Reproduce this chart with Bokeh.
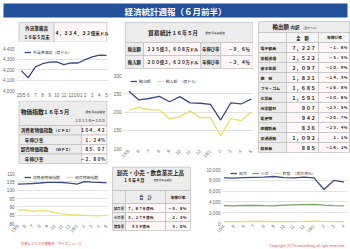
from math import pi
from bokeh.plotting import figure
from bokeh.layouts import row, column
from bokeh.models import Range1d, FixedTicker, NumeralTickFormatter, Legend, LegendItem
from bokeh.embed import file_html
from bokeh.resources import INLINE
from bokeh.core.properties import value

FONT = "Noto Sans CJK JP"
NUMF = "Liberation Sans"

# ---------------- data ----------------
title_text = "経済統計週報（６月前半）"
months_a = ["15/5", "6", "7", "8", "9", "10", "11", "12", "16/1", "2", "3", "4", "5"]
months_b = ["15/4", "5", "6", "7", "8", "9", "10", "11", "12", "16/1", "2", "3", "4"]
reserves = [4189, 4122, 4225, 4255, 4270, 4272, 4246, 4264, 4262, 4294, 4321, 4336, 4334.32]
cpi = [103.6, 103.8, 104.0, 104.3, 104.7, 104.7, 104.6, 104.2, 103.6, 105.1, 104.8, 104.7, 104.42]
wpi = [88.2, 88.1, 87.3, 87.7, 87.6, 86.5, 85.8, 85.3, 85.1, 84.9, 84.7, 84.6, 85.07]
exports = [257, 233, 237, 243, 228, 242, 225, 224, 221, 178, 225, 222, 235.36]
imports = [205, 213, 206, 206, 181, 187, 203, 184, 185, 135, 182, 176, 200.36]
wholesale = [8450, 8400, 8500, 8550, 8600, 8700, 8500, 8450, 8600, 8450, 6300, 8000, 7676]
retail = [3300, 3280, 3350, 3330, 3300, 3280, 3400, 3450, 3500, 3550, 3400, 3300, 3279]
food = [360, 350, 370, 380, 370, 350, 360, 350, 380, 420, 400, 350, 339]

reserve_label = "外貨準備高"
reserve_period = "１６年５月末"
reserve_value = "4,334.32億米ドル"
price_rows = ["消費者物価指数", "年伸び率", "卸売物価指数", "年伸び率"]
price_tags = ["（ＣＰＩ）", "", "（ＷＰＩ）", ""]
price_values = ["104.42", "1.24%", "85.07", "-2.80%"]
trade_rows = ["輸出額", "輸入額"]
trade_amounts = ["235億3,608万ドル", "200億3,620万ドル"]
trade_growth = ["-9.6%", "-3.4%"]
export_items = ["電子部品", "情報通信", "基本金属", "機　械", "プラ・ゴム", "化学品",
                "光学器材", "鉱産物", "繊維製品", "交通運輸", "精密品"]
export_amounts = [7227, 2522, 2097, 1831, 1685, 1591, 907, 942, 836, 1092, 885]
export_growth = [-1.6, -5.5, -10.9, -14.3, -16.8, -10.6, -23.5, -20.7, -23.4, 1.1, -16.2]
sales_rows = ["卸売業", "小売業", "飲食業"]
sales_amounts = ["7,676億元", "3,279億元", "339億元"]
sales_growth = ["-5.8%", "2.3%", "3.0%"]

# ---------------- styles ----------------
BLUE_BAR = "#23509b"
GRAY = "#ececec"
PINK = "#fff7f7"
BORDER = "#bcbcbc"
TEXT = "#222222"
BLUE = "#3b4b8a"
YELLOW = "#ebdf63"
GREEN = "#76a35c"
RED = "#e04545"
FW = str.maketrans("0123456789,.-%=", "０１２３４５６７８９，．－％＝")


def fw(s):
    return s.translate(FW)


def canvas(w, h):
    p = figure(width=w, height=h, x_range=Range1d(0, w), y_range=Range1d(h, 0),
               output_backend="svg", toolbar_location=None, min_border=0,
               x_axis_location=None, y_axis_location=None, outline_line_color=None,
               background_fill_color="white", border_fill_color="white")
    p.grid.visible = False
    return p


def cell(p, l, r, t, b, fill):
    p.quad(left=[l], right=[r], top=[t], bottom=[b], fill_color=fill,
           line_color=BORDER, line_width=0.7)


def txt(p, x, y, s, size="4.4px", align="left", bold=False, color=TEXT):
    p.text(x=[x], y=[y], text=[s], text_font=value(FONT), text_font_size=size,
           text_align=align, text_baseline="middle", text_color=color,
           text_font_style="bold" if bold else "normal")


def chart(w, h, xr, yr, yticks, labels, bl, br, bt, bb, rotate):
    p = figure(width=w, height=h, x_range=Range1d(*xr), y_range=Range1d(*yr),
               output_backend="svg", toolbar_location=None,
               min_border_left=bl, min_border_right=br, min_border_top=bt,
               min_border_bottom=bb, outline_line_color=None,
               background_fill_color="white", border_fill_color="white")
    p.xgrid.grid_line_color = None
    p.ygrid.grid_line_color = "#dcdcdc"
    p.ygrid.grid_line_width = 0.8
    p.xaxis.ticker = FixedTicker(ticks=list(range(len(labels))))
    p.xaxis.major_label_overrides = {i: s for i, s in enumerate(labels)}
    p.yaxis.ticker = FixedTicker(ticks=yticks)
    p.yaxis.formatter = NumeralTickFormatter(format="0,0")
    for ax in p.axis:
        ax.axis_line_color = None
        ax.major_tick_line_color = None
        ax.minor_tick_line_color = None
        ax.major_tick_out = 0
        ax.major_tick_in = 0
        ax.minor_tick_out = 0
        ax.minor_tick_in = 0
        ax.major_label_text_font_size = "4.6px"
        ax.major_label_text_color = "#666666"
        ax.major_label_text_font = NUMF
        ax.major_label_standoff = 2
    if rotate:
        p.xaxis.major_label_orientation = pi / 4
    return p


def legend(p, items, loc, spacing=4):
    lg = Legend(items=items, location=loc, orientation="horizontal",
                label_text_font=FONT, label_text_font_size="3.9px",
                label_text_color="#444444", glyph_width=7, glyph_height=6,
                label_height=6, label_width=5, label_standoff=2, spacing=spacing,
                padding=0, margin=0, border_line_color=None, background_fill_alpha=0)
    p.add_layout(lg)


# ---------------- title ----------------
title = canvas(350, 20)
title.quad(left=[3], right=[347], top=[3], bottom=[17], fill_color=BLUE_BAR, line_color=None)
txt(title, 175, 10.3, title_text, size="8.5px", align="center", bold=True, color="white")

# ---------------- left column ----------------
box = canvas(110, 22)
cell(box, 3, 45, 2, 21.7, GRAY)
cell(box, 45, 108, 2, 21.7, PINK)
txt(box, 24, 7, reserve_label, size="4.6px", align="center", bold=True)
txt(box, 24, 16, reserve_period, size="4.3px", align="center", bold=True)
txt(box, 78, 12, fw(reserve_value), size="4.5px", align="center", bold=True)

x13 = list(range(13))
ch1 = chart(110, 58, (-0.66, 12.28), (4000, 4400), [4000, 4100, 4200, 4300, 4400],
            months_a, 16, 2, 6, 7, False)
r = ch1.line(x13, reserves, line_color=BLUE, line_width=1.3)
legend(ch1, [LegendItem(label="外貨準備高（億ドル）", renderers=[r])], (8, 35.5))

ptab = canvas(110, 64)
cell(ptab, 3, 108, 0.5, 25, GRAY)
txt(ptab, 5, 11, "物価指数", size="5.8px", bold=True)
txt(ptab, 32, 11, "１６年５月", size="5.2px", bold=True)
txt(ptab, 106, 11.5, "最新月は速報値", size="2.8px", align="right")
txt(ptab, 106, 20, "２０１１年＝１００", size="3.4px", align="right")
for i in range(4):
    t = 25 + i * 9.5
    cell(ptab, 3, 78, t, t + 9.5, GRAY)
    cell(ptab, 78, 108, t, t + 9.5, PINK)
    indent = 5 if price_tags[i] else 10
    txt(ptab, indent, t + 4.8, price_rows[i], size="4.6px", bold=True)
    if price_tags[i]:
        txt(ptab, 67, t + 4.8, price_tags[i], size="3.8px", align="right", bold=True)
    txt(ptab, 106, t + 4.8, fw(price_values[i]), size="4.1px", align="right", bold=True)

ch2 = chart(110, 74, (-0.2, 12.27), (80, 110), [80, 85, 90, 95, 100, 105, 110],
            months_a, 14, 2, 9, 11, True)
ra = ch2.line(x13, cpi, line_color=BLUE, line_width=1.3)
rb = ch2.line(x13, wpi, line_color=YELLOW, line_width=1.3)
legend(ch2, [LegendItem(label="消費者物価指数", renderers=[ra]),
             LegendItem(label="卸売物価指数", renderers=[rb])], (7.7, 43.5), spacing=6)

foot = canvas(110, 11)
txt(foot, 5, 4, "台湾ビジネスの情報源　ワイズニュース", size="3.4px", color=RED)

# ---------------- middle top ----------------
ttab = canvas(143, 52)
cell(ttab, 2, 142.5, 2, 22, GRAY)
txt(ttab, 27, 12, "貿易統計", size="5.8px", bold=True)
txt(ttab, 53, 12, "１６年５月", size="5.2px", bold=True)
txt(ttab, 90, 12.5, "最新月は速報値", size="2.8px")
for i in range(2):
    t = 22 + i * 13
    cell(ttab, 2, 22, t, t + 13, GRAY)
    cell(ttab, 22, 85, t, t + 13, PINK)
    cell(ttab, 85, 107, t, t + 13, GRAY)
    cell(ttab, 107, 142.5, t, t + 13, PINK)
    txt(ttab, 12, t + 6.5, trade_rows[i], size="4.4px", align="center", bold=True)
    txt(ttab, 54, t + 6.5, fw(trade_amounts[i]), size="4.3px", align="center", bold=True)
    txt(ttab, 96, t + 6.5, "年伸び率", size="4.3px", align="center", bold=True)
    txt(ttab, 139, t + 6.5, fw(trade_growth[i]), size="4.3px", align="right", bold=True)

tch = chart(143, 92, (-0.52, 12.22), (100, 300), [100, 150, 200, 250, 300],
            months_a, 13, 0, 3, 16, True)
re_ = tch.line(x13, exports, line_color=BLUE, line_width=1.3)
ri_ = tch.line(x13, imports, line_color=YELLOW, line_width=1.3)
legend(tch, [LegendItem(label="輸出額", renderers=[re_]),
             LegendItem(label="輸入額　（億ドル）", renderers=[ri_])], (7, 64), spacing=6)

# ---------------- right table ----------------
xtab = canvas(97, 144)
cell(xtab, 5, 96, 1, 12, GRAY)
txt(xtab, 19, 6.5, "輸出額", size="5.5px", bold=True)
txt(xtab, 37, 6.8, "内訳", size="4.4px", bold=True)
txt(xtab, 48, 7, "（百万ドル）", size="2.8px")
cell(xtab, 5, 33, 12, 22, "#f4f4f4")
cell(xtab, 33, 65, 12, 22, "#f4f4f4")
cell(xtab, 65, 96, 12, 22, "#f4f4f4")
txt(xtab, 49, 17, "金　額", size="4.2px", align="center", bold=True)
txt(xtab, 81, 17, "年伸び率", size="3.8px", align="center", bold=True)
for i, name in enumerate(export_items):
    t = 22 + i * 10
    cell(xtab, 5, 33, t, t + 10, GRAY)
    cell(xtab, 33, 65, t, t + 10, PINK)
    cell(xtab, 65, 96, t, t + 10, PINK)
    txt(xtab, 7, t + 5, name, size="3.9px", bold=True)
    txt(xtab, 62, t + 5, fw(f"{export_amounts[i]:,}"), size="4.8px", align="right", bold=True)
    txt(xtab, 94, t + 5, fw(f"{export_growth[i]:.1f}%"), size="3.7px", align="right", bold=True)

# ---------------- bottom middle table ----------------
stab = canvas(83, 85)
cell(stab, 2, 80, 2.7, 26, GRAY)
txt(stab, 40, 8.5, "卸売・小売・飲食業売上高", size="5.6px", align="center", bold=True)
txt(stab, 13, 15, "１６年４月", size="4.2px", bold=True)
txt(stab, 43, 15.2, "最新月は速報値", size="2.6px")
cell(stab, 2, 15, 26, 39, GRAY)
cell(stab, 15, 55, 26, 39, GRAY)
cell(stab, 55, 80, 26, 39, GRAY)
txt(stab, 35, 32.5, "合　計", size="4.2px", align="center", bold=True)
txt(stab, 67.5, 32.5, "年伸び率", size="3.7px", align="center", bold=True)
for i in range(3):
    t = 39 + i * 9
    cell(stab, 2, 15, t, t + 9, GRAY)
    cell(stab, 15, 55, t, t + 9, PINK)
    cell(stab, 55, 80, t, t + 9, PINK)
    txt(stab, 8.5, t + 4.5, sales_rows[i], size="3.4px", align="center", bold=True)
    txt(stab, 30, t + 4.5, fw(sales_amounts[i]), size="3.7px", align="center", bold=True)
    txt(stab, 76, t + 4.5, fw(sales_growth[i]), size="3.7px", align="right", bold=True)

# ---------------- bottom right chart ----------------
ch3 = chart(157, 74, (-0.15, 12.35), (0, 10000), [0, 2000, 4000, 6000, 8000, 10000],
            months_b, 29, 3, 5, 12, True)
rw = ch3.line(x13, wholesale, line_color=BLUE, line_width=1.3)
rr = ch3.line(x13, retail, line_color=GREEN, line_width=1.3)
rf = ch3.line(x13, food, line_color=YELLOW, line_width=1.3)
legend(ch3, [LegendItem(label="卸売", renderers=[rw]),
             LegendItem(label="小売", renderers=[rr]),
             LegendItem(label="飲食　（億台湾元）", renderers=[rf])], (8, 47.5), spacing=5)

copy = canvas(157, 11)
txt(copy, 154, 6, "Copyright (C) Y's consulting.all right reserved.", size="3.6px",
    align="right", color=RED)

# ---------------- layout ----------------
left = column(box, ch1, ptab, ch2, foot, spacing=0)
mid = column(ttab, tch, spacing=0)
topright = row(mid, xtab, spacing=0)
bottomright = row(stab, column(ch3, copy, spacing=0), spacing=0)
right = column(topright, bottomright, spacing=0)
page = column(title, row(left, right, spacing=0), spacing=0)

open("out.html", "w").write(file_html(page, INLINE))
